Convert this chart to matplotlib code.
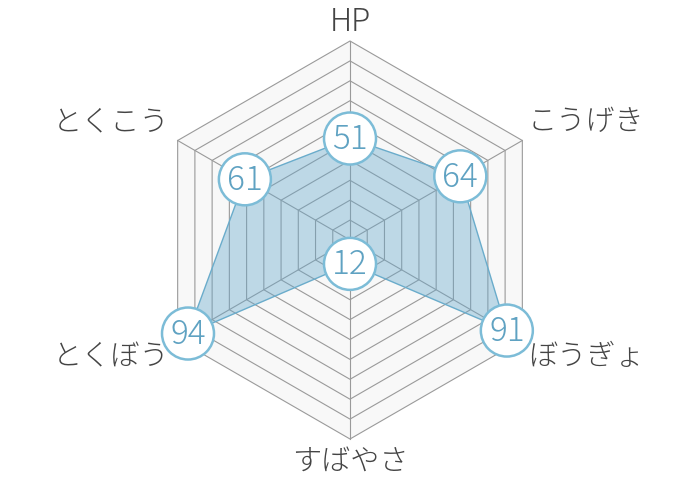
import numpy as np
import matplotlib
matplotlib.use("Agg")
import matplotlib.pyplot as plt
from matplotlib.patches import Polygon, Circle

plt.rcParams['font.family'] = ['Noto Sans CJK JP', 'DejaVu Sans']

# data
stats = ['HP', 'こうげき', 'ぼうぎょ', 'すばやさ', 'とくぼう', 'とくこう']
values = [51, 64, 91, 12, 94, 61]
max_value = 100
levels = 10

# layout (pixels)
cx, cy, R = 350, 240, 199
label_color = '#444444'
accent = '#7cbcd7'

fig = plt.figure(figsize=(7, 4.8), dpi=100)
ax = fig.add_axes([0, 0, 1, 1])
ax.set_xlim(0, 700)
ax.set_ylim(480, 0)
ax.axis('off')

n = len(stats)
angles = np.pi / 2 - np.arange(n) * 2 * np.pi / n


def pt(r, a):
    return cx + r * np.cos(a), cy - r * np.sin(a)


# background hexagon and grid
outer = [pt(R, a) for a in angles]
ax.add_patch(Polygon(outer, closed=True, facecolor='#f8f8f8', edgecolor='none', zorder=1))
for k in range(1, levels + 1):
    ring = [pt(R * k / levels, a) for a in angles]
    ax.add_patch(Polygon(ring, closed=True, facecolor='none', edgecolor='#9a9a9a', lw=0.8, zorder=2))
for a in angles:
    x1, y1 = pt(R, a)
    ax.plot([cx, x1], [cy, y1], color='#9a9a9a', lw=0.8, zorder=2)

# data polygon
data_pts = [pt(R * v / max_value, a) for v, a in zip(values, angles)]
ax.add_patch(Polygon(data_pts, closed=True, facecolor=(0.40, 0.66, 0.80, 0.40),
                     edgecolor='#6aaccb', lw=1.0, zorder=3))

# value badges
for (x, y), v in zip(data_pts, values):
    ax.add_patch(Circle((x, y), 26, facecolor='white', edgecolor=accent, lw=1.8, zorder=4))
    ax.text(x, y + 1, str(v), ha='center', va='center', fontsize=24, fontweight='light',
            color='#5fa2c2', zorder=5)

# axis labels
label_pos = [
    (350, 22, 'center'),
    (528, 122, 'left'),
    (528, 357, 'left'),
    (350, 461, 'center'),
    (169, 357, 'right'),
    (169, 122, 'right'),
]
for name, (x, y, ha) in zip(stats, label_pos):
    size = 22.5 if name.isascii() else 21
    ax.text(x, y, name, ha=ha, va='center', fontsize=size, fontweight='light',
            color=label_color)

fig.savefig('out.png', dpi=100)
